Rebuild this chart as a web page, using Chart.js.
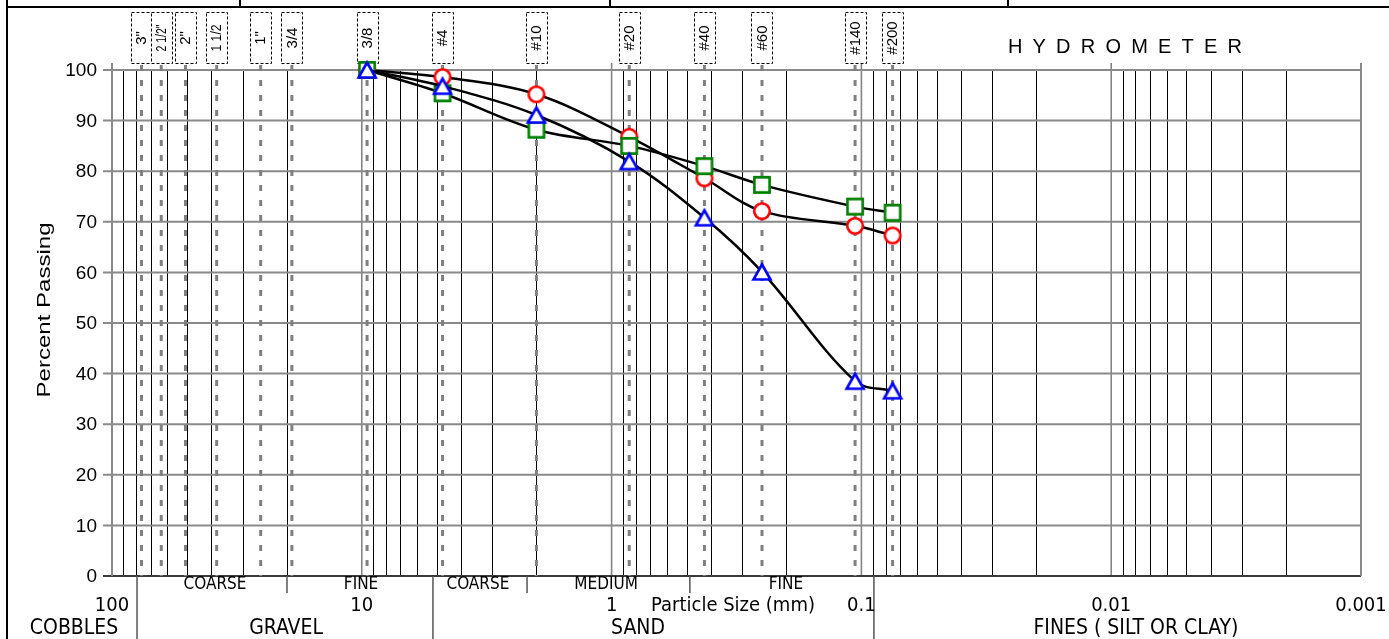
<!DOCTYPE html>
<html><head><meta charset="utf-8">
<script src="https://cdn.jsdelivr.net/npm/chart.js@4.4.1/dist/chart.umd.min.js"></script>
<style>html,body{margin:0;padding:0;background:#fff;overflow:hidden}#wrap{position:relative;width:1389px;height:639px}</style>
</head><body><div id="wrap"><canvas id="c" width="1389" height="639"></canvas></div>
<script>
// ---- data ----
const sieveLabels = ['3"', '2 1/2"', '2"', '1 1/2', '1"', '3/4', '3/8', '#4', '#10', '#20', '#40', '#60', '#140', '#200'];
const sieveSizes  = [76.2, 63.5, 50.8, 38.1, 25.4, 19.05, 9.525, 4.75, 2.0, 0.85, 0.425, 0.25, 0.106, 0.075];
const testSizes   = [9.525, 4.75, 2.0, 0.85, 0.425, 0.25, 0.106, 0.075];
const sampleRed   = [100, 98.6, 95.2, 86.8, 78.6, 72.1, 69.2, 67.3];
const sampleGreen = [100, 95.4, 88.2, 85.0, 81.0, 77.3, 73.0, 71.8];
const sampleBlue  = [100, 96.8, 91.1, 81.9, 70.8, 60.1, 38.5, 36.6];
const yTickValues = [0, 10, 20, 30, 40, 50, 60, 70, 80, 90, 100];
const xDecades    = [100, 10, 1, 0.1, 0.01, 0.001];
const xTickLabels = ['100', '10', '1', '0.1', '0.01', '0.001'];
const gridMultipliers = [1, 2, 3, 4, 5, 6, 7, 8, 9];
// soil classification
const classBounds = [79.4, 19.93, 5.19, 2.18, 0.486, 0.0891];
const classBoundFull = [true, false, true, false, false, true];
const subClassLabels = ['COARSE', 'FINE', 'COARSE', 'MEDIUM', 'FINE'];
const subClassAt = [38.7, 10.07, 3.43, 1.052, 0.2004];
const classLabels = ['COBBLES', 'GRAVEL', 'SAND', 'FINES ( SILT OR CLAY)'];
const classAt = [141.9, 20.1, 0.784, 0.00796];
const xTitle = 'Particle Size (mm)', xTitleAt = 0.3266;
const yTitle = 'Percent Passing';
const hydroTitle = 'HYDROMETER', hydroAt = 0.00881;

// ---- markers ----
function marker(kind, color) {
  const s = 26, c = document.createElement('canvas'); c.width = s; c.height = s;
  const g = c.getContext('2d'); g.lineWidth = 2.6; g.strokeStyle = color; g.fillStyle = '#fff';
  const m = s / 2;
  g.beginPath();
  if (kind === 'circle') g.arc(m, m, 7.8, 0, Math.PI * 2);
  else if (kind === 'square') g.rect(m - 7.6, m - 7.6, 15.2, 15.2);
  else { g.moveTo(m, m - 7.5); g.lineTo(m + 8.5, m + 7.5); g.lineTo(m - 8.5, m + 7.5); g.closePath(); }
  g.fill(); g.stroke();
  return c;
}
const NARROW = "'Liberation Sans Narrow','DejaVu Sans Condensed','Arial Narrow',sans-serif";
const SANS = "'Liberation Sans',Arial,sans-serif";

function stretchedText(ctx, text, x, y, width) {
  const w = ctx.measureText(text).width;
  ctx.save(); ctx.translate(x, y); ctx.scale(width / w, 1);
  ctx.textAlign = 'center'; ctx.fillText(text, 0, 0); ctx.restore();
}

const framePlugin = {
  id: 'frame',
  beforeDatasetsDraw(chart) {
    const {ctx, chartArea: {left, right, top, bottom}, scales: {x, y}} = chart;
    ctx.save();
    const vline = (px, y0, y1) => { ctx.beginPath(); ctx.moveTo(px, y0); ctx.lineTo(px, y1); ctx.stroke(); };
    const hline = (py, x0, x1) => { ctx.beginPath(); ctx.moveTo(x0, py); ctx.lineTo(x1, py); ctx.stroke(); };
    // page frame
    ctx.strokeStyle = '#000'; ctx.lineWidth = 2;
    hline(7, 6, 1389); vline(7, 0, 639);
    [240, 610, 1008].forEach(px => vline(px, 0, 7));
    // minor vertical grid (log)
    ctx.strokeStyle = '#000'; ctx.lineWidth = 1;
    xDecades.slice(1).forEach(d => gridMultipliers.forEach(k => {
      const v = d * k; if (v >= 100 || k === 1) return;
      vline(Math.round(x.getPixelForValue(v)) + 0.5, top, bottom);
    }));
    // decade lines
    ctx.strokeStyle = '#858585'; ctx.lineWidth = 1.6;
    xDecades.forEach(d => { const px = x.getPixelForValue(d); vline(px, top - 7, bottom); });
    // horizontal grid
    ctx.strokeStyle = '#8a8a8a'; ctx.lineWidth = 2;
    yTickValues.forEach(v => { if (v === 0) return; hline(y.getPixelForValue(v), left - 9, right); });
    ctx.strokeStyle = '#3a3a3a';
    hline(y.getPixelForValue(0), left - 9, right);
    // axes
    ctx.strokeStyle = '#8a8a8a'; ctx.lineWidth = 2;
    vline(left, top - 7, bottom); vline(right, top - 7, bottom);
    // sieve dashed lines
    ctx.strokeStyle = '#808080'; ctx.lineWidth = 3; ctx.setLineDash([6, 9]);
    sieveSizes.forEach(s => vline(x.getPixelForValue(s), top - 5, bottom));
    ctx.setLineDash([]);
    // sieve label boxes
    sieveSizes.forEach((s, i) => {
      const px = x.getPixelForValue(s);
      ctx.fillStyle = '#fff'; ctx.fillRect(px - 10.5, 12, 21, 52);
      ctx.strokeStyle = '#000'; ctx.lineWidth = 1; ctx.setLineDash([3, 2]);
      ctx.strokeRect(Math.round(px - 10.5) + 0.5, 12.5, 21, 51);
      ctx.setLineDash([]);
      ctx.save(); ctx.translate(px + 0.5, 38); ctx.rotate(-Math.PI / 2);
      ctx.fillStyle = '#000'; ctx.font = '15px ' + SANS; ctx.textAlign = 'center'; ctx.textBaseline = 'middle';
      if (sieveLabels[i].includes(' ')) ctx.fillText(sieveLabels[i], 0, 0, 27); else ctx.fillText(sieveLabels[i], 0, 0);
      ctx.restore();
    });
    // classification separators
    ctx.strokeStyle = '#555'; ctx.lineWidth = 1.5;
    classBounds.forEach((b, i) => vline(x.getPixelForValue(b), bottom, classBoundFull[i] ? 639 : bottom + 17));
    ctx.restore();
  },
  afterDraw(chart) {
    const {ctx, chartArea: {left, right, top, bottom}, scales: {x, y}} = chart;
    ctx.save();
    ctx.fillStyle = '#000';
    // y tick labels
    ctx.font = '19px ' + SANS; ctx.textAlign = 'right'; ctx.textBaseline = 'middle';
    yTickValues.forEach(v => ctx.fillText(String(v), left - 15, y.getPixelForValue(v) + 1));
    // y title
    ctx.save(); ctx.translate(45, 310); ctx.rotate(-Math.PI / 2);
    ctx.font = '18px ' + SANS; stretchedText(ctx, yTitle, 0, 0, 175); ctx.restore();
    // sub class labels
    ctx.textAlign = 'center';
    ctx.font = '17px ' + NARROW;
    subClassLabels.forEach((t, i) => ctx.fillText(t, x.getPixelForValue(subClassAt[i]), bottom + 9));
    // x tick labels
    ctx.font = '20px ' + NARROW;
    xDecades.forEach((d, i) => ctx.fillText(xTickLabels[i], x.getPixelForValue(d), bottom + 30));
    ctx.fillText(xTitle, x.getPixelForValue(xTitleAt), bottom + 30);
    // class labels
    ctx.font = '21px ' + NARROW;
    classLabels.forEach((t, i) => ctx.fillText(t, x.getPixelForValue(classAt[i]), bottom + 53));
    // hydrometer
    ctx.font = '20px ' + SANS; ctx.textAlign = 'left';
    const sp = 10.2;
    const chars = hydroTitle.split('');
    const total = chars.reduce((a, c) => a + ctx.measureText(c).width, 0) + sp * (chars.length - 1);
    let cx = x.getPixelForValue(hydroAt) - total / 2;
    chars.forEach(c => { ctx.fillText(c, cx, 47); cx += ctx.measureText(c).width + sp; });
    ctx.restore();
  }
};

const mk = (sizes, vals) => sizes.map((s, i) => ({x: s, y: vals[i]}));
new Chart(document.getElementById('c'), {
  type: 'line',
  data: {
    datasets: [
      {label: 'Blue', data: mk(testSizes, sampleBlue), borderColor: '#000', borderWidth: 2.5, pointStyle: marker('triangle', '#0000ff'), pointRadius: 9, tension: 0.35, order: 1, clip: false, fill: false},
      {label: 'Green', data: mk(testSizes, sampleGreen), borderColor: '#000', borderWidth: 2.5, pointStyle: marker('square', '#008000'), pointRadius: 9, tension: 0.35, order: 2, clip: false, fill: false},
      {label: 'Red', data: mk(testSizes, sampleRed), borderColor: '#000', borderWidth: 2.5, pointStyle: marker('circle', '#ff0000'), pointRadius: 9, tension: 0.35, order: 3, clip: false, fill: false}
    ]
  },
  options: {
    responsive: false, animation: false, devicePixelRatio: 1,
    layout: {padding: {left: 112, right: 28, top: 70, bottom: 63}},
    scales: {
      x: {type: 'logarithmic', reverse: true, min: 0.001, max: 100, display: false},
      y: {type: 'linear', min: 0, max: 100, display: false}
    },
    plugins: {legend: {display: false}, tooltip: {enabled: false}}
  },
  plugins: [framePlugin]
});
</script></body></html>
